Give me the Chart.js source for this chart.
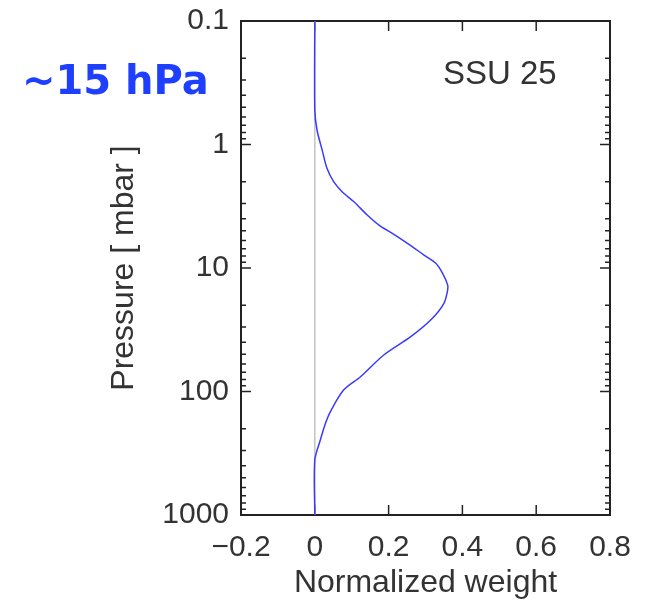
<!DOCTYPE html>
<html>
<head>
<meta charset="utf-8">
<script src="https://cdn.jsdelivr.net/npm/chart.js@4/dist/chart.umd.min.js"></script>
<style>
  body { margin: 0; background: #fff; }
  #wrap { position: relative; width: 652px; height: 602px; }
  .note { position: absolute; line-height: 1; white-space: nowrap; }
  #hpa { left: 22px; top: 57px; font: bold 40px "DejaVu Sans", sans-serif; color: #1f3fff; }
  #ssu { left: 443px; top: 54px; font: 33px "Liberation Sans", Arial, sans-serif; color: #333; }
</style>
</head>
<body>
<div id="wrap">
  <canvas id="chart" width="652" height="602"></canvas>
  <div class="note" id="hpa">~15 hPa</div>
  <div class="note" id="ssu">SSU 25</div>
</div>
<script>
// weighting function
const pressure = [0.1, 0.526, 0.763, 1.11, 1.56, 2.00, 2.41, 2.91, 3.72, 4.49, 5.24, 6.31, 7.85, 9.16, 11.0, 13.7, 15.1, 19.3, 26.4, 36.0, 50.6, 75.9, 97.2, 146, 181, 247, 359, 1000];
const weight = [0, 0, 0.006, 0.020, 0.033, 0.051, 0.074, 0.106, 0.142, 0.174, 0.210, 0.251, 0.296, 0.328, 0.346, 0.360, 0.360, 0.350, 0.314, 0.260, 0.187, 0.124, 0.078, 0.042, 0.029, 0.015, 0, 0];

const xTicks = [-0.2, 0, 0.2, 0.4, 0.6, 0.8];
const yTicks = [0.1, 1, 10, 100, 1000];

const fontFamily = '"Liberation Sans", Arial, sans-serif';
const textColor = '#333';

// frame and inward ticks on all four sides
const frameTicks = {
    id: 'frameTicks',
    beforeDatasetsDraw(chart) {
        const { ctx, chartArea: a, scales: { x, y } } = chart;
        ctx.save();
        ctx.strokeStyle = '#222';
        ctx.lineWidth = 1.5;
        ctx.beginPath();
        xTicks.forEach(v => {
            const px = x.getPixelForValue(v);
            ctx.moveTo(px, a.bottom); ctx.lineTo(px, a.bottom - 10);
            ctx.moveTo(px, a.top); ctx.lineTo(px, a.top + 10);
        });
        yTicks.forEach((d, i) => {
            const py = y.getPixelForValue(d);
            ctx.moveTo(a.left, py); ctx.lineTo(a.left + 10, py);
            ctx.moveTo(a.right, py); ctx.lineTo(a.right - 10, py);
            if (i === yTicks.length - 1) return;
            for (let k = 2; k <= 9; k++) {
                const pm = y.getPixelForValue(d * k);
                ctx.moveTo(a.left, pm); ctx.lineTo(a.left + 5, pm);
                ctx.moveTo(a.right, pm); ctx.lineTo(a.right - 5, pm);
            }
        });
        ctx.stroke();
        ctx.lineWidth = 2;
        ctx.strokeRect(a.left, a.top, a.right - a.left, a.bottom - a.top);
        ctx.restore();
    }
};

new Chart(document.getElementById('chart'), {
    type: 'scatter',
    data: {
        datasets: [
            {
                data: pressure.map((p, i) => ({ x: weight[i], y: p })),
                showLine: true,
                borderColor: '#3a3aff',
                borderWidth: 1.5,
                pointRadius: 0,
                tension: 0.3
            },
            {
                data: [{ x: 0, y: yTicks[0] }, { x: 0, y: yTicks[yTicks.length - 1] }],
                showLine: true,
                borderColor: '#c4c4c4',
                borderWidth: 1.5,
                pointRadius: 0
            }
        ]
    },
    options: {
        responsive: false,
        animation: false,
        layout: { padding: { left: 95, top: 21, right: 42, bottom: 0 } },
        plugins: { legend: { display: false }, tooltip: { enabled: false } },
        scales: {
            x: {
                type: 'linear',
                min: -0.2,
                max: 0.8,
                afterFit: s => { s.height = 87; s.paddingLeft = 0; s.paddingRight = 0; },
                afterBuildTicks: s => { s.ticks = xTicks.map(v => ({ value: v })); },
                grid: { display: false, drawTicks: false },
                border: { display: false },
                ticks: {
                    padding: 15,
                    color: textColor,
                    font: { family: fontFamily, size: 30 },
                    callback: v => v < 0 ? '\u2212' + Math.abs(v) : String(v)
                },
                title: {
                    display: true,
                    text: 'Normalized weight',
                    color: textColor,
                    font: { family: fontFamily, size: 32 },
                    padding: { top: 10, bottom: 0 }
                }
            },
            y: {
                type: 'logarithmic',
                reverse: true,
                min: 0.1,
                max: 1000,
                afterFit: s => { s.width = 146; s.paddingTop = 0; s.paddingBottom = 0; },
                afterBuildTicks: s => { s.ticks = yTicks.map(v => ({ value: v })); },
                grid: { display: false, drawTicks: false },
                border: { display: false },
                ticks: {
                    padding: 12,
                    color: textColor,
                    font: { family: fontFamily, size: 30 },
                    callback: v => String(v)
                },
                title: {
                    display: true,
                    text: 'Pressure [ mbar ]',
                    color: textColor,
                    font: { family: fontFamily, size: 32 },
                    padding: { top: 10, bottom: 0 }
                }
            }
        }
    },
    plugins: [frameTicks]
});
</script>
</body>
</html>
